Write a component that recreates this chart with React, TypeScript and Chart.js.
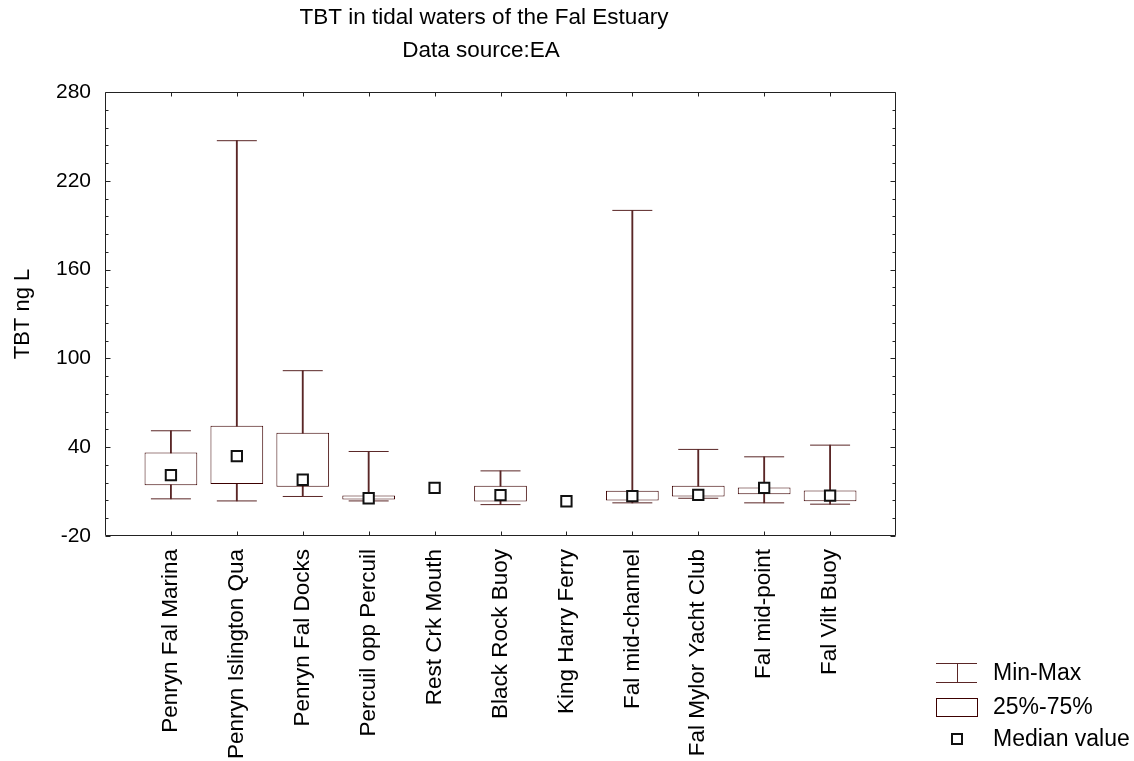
import React, { useEffect, useRef } from 'react';
import { Chart, registerables } from 'chart.js';

Chart.register(...registerables);

// ---------- data ----------
const stations = [
  'Penryn Fal Marina',
  'Penryn Islington Qua',
  'Penryn Fal Docks',
  'Percuil opp Percuil',
  'Rest Crk Mouth',
  'Black Rock Buoy',
  'King Harry Ferry',
  'Fal mid-channel',
  'Fal Mylor Yacht Club',
  'Fal mid-point',
  'Fal Vilt Buoy',
];
const minVals = [5.1, 3.7, 6.7, 3.7, null, 1.2, null, 2.4, 5.5, 2.4, 1.5];
const q1Vals = [14.3, 15.2, 13.2, 4.6, null, 3.3, null, 4.0, 6.7, 8.2, 3.5];
const medianVals = [21.1, 34.0, 18.0, 5.5, 12.5, 7.6, 3.5, 6.9, 7.8, 12.5, 7.3];
const q3Vals = [36.4, 54.5, 49.7, 7.3, null, 13.9, null, 10.5, 13.9, 12.7, 10.7];
const maxVals = [51.1, 247.1, 91.7, 37.1, null, 24.0, null, 200.0, 38.5, 33.5, 41.4];
const yTicks = [-20, 40, 100, 160, 220, 280];
const yMinorStep = 12;

const titleLines = ['TBT in tidal waters of the Fal Estuary', 'Data source:EA'];
const yTitle = 'TBT ng L';
const legendLabels = ['Min-Max', '25%-75%', 'Median value'];

// ---------- styles ----------
const FONT = "'Liberation Sans', Arial, Helvetica, sans-serif";
const BOX = '#3c0000';
const WHISKER = '#5a2626';
const FRAME = '#222222';

const pad = <T,>(arr: (T | null)[]) => [null, ...arr, null];

const framePlugin = {
  id: 'frameAndExtras',
  afterDraw(chart: any) {
    const { ctx, chartArea: a, scales } = chart;
    const x = scales.x;
    const y = scales.y;
    ctx.save();
    // frame
    ctx.strokeStyle = FRAME;
    ctx.lineWidth = 1;
    const L = Math.round(a.left) + 0.5;
    const R = Math.round(a.right) - 0.5;
    const T = Math.round(a.top) + 0.5;
    const B = Math.round(a.bottom) - 0.5;
    ctx.beginPath();
    ctx.rect(L, T, R - L, B - T);
    ctx.stroke();
    // y ticks (inward, both sides)
    ctx.beginPath();
    for (let v = yTicks[0]; v <= yTicks[yTicks.length - 1] + 0.001; v += yMinorStep) {
      const py = Math.round(y.getPixelForValue(v)) + 0.5;
      const major = yTicks.some((t) => Math.abs(t - v) < 0.001);
      const len = major ? 5 : 3;
      ctx.moveTo(L, py);
      ctx.lineTo(L + len, py);
      ctx.moveTo(R, py);
      ctx.lineTo(R - len, py);
    }
    // x ticks (inward, top and bottom)
    for (let i = 1; i <= stations.length; i++) {
      const px = Math.round(x.getPixelForValue(i)) + 0.5;
      ctx.moveTo(px, T);
      ctx.lineTo(px, T + 4);
      ctx.moveTo(px, B);
      ctx.lineTo(px, B - 4);
    }
    ctx.stroke();

    // title
    ctx.fillStyle = '#000';
    ctx.textAlign = 'center';
    ctx.textBaseline = 'middle';
    ctx.font = `22.5px ${FONT}`;
    ctx.fillText(titleLines[0], 484, 18);
    ctx.fillText(titleLines[1], 481, 51);

    // legend
    ctx.strokeStyle = WHISKER;
    ctx.lineWidth = 1;
    ctx.beginPath();
    ctx.moveTo(936, 663.5);
    ctx.lineTo(977, 663.5);
    ctx.moveTo(936, 682.5);
    ctx.lineTo(977, 682.5);
    ctx.moveTo(957.5, 663.5);
    ctx.lineTo(957.5, 682.5);
    ctx.stroke();
    ctx.strokeStyle = BOX;
    ctx.strokeRect(936.5, 698.5, 41, 18);
    ctx.strokeStyle = '#111';
    ctx.lineWidth = 2;
    ctx.fillStyle = '#fff';
    ctx.fillRect(952, 734, 10, 10);
    ctx.strokeRect(952, 734, 10, 10);
    ctx.fillStyle = '#000';
    ctx.textAlign = 'left';
    ctx.font = `23px ${FONT}`;
    ctx.fillText(legendLabels[0], 993, 674);
    ctx.fillText(legendLabels[1], 993, 708);
    ctx.fillText(legendLabels[2], 993, 740);
    ctx.restore();
  },
};

const bgPlugin = {
  id: 'whiteBg',
  beforeDraw(chart: any) {
    const { ctx, width, height } = chart;
    ctx.save();
    ctx.fillStyle = '#ffffff';
    ctx.fillRect(0, 0, width, height);
    ctx.restore();
  },
};

export default function App() {
  const ref = useRef<HTMLCanvasElement | null>(null);

  useEffect(() => {
    if (!ref.current) return;
    const labels = ['', ...stations, ''];
    const whiskerData = pad(stations.map((_, i) => (minVals[i] == null || maxVals[i] == null ? null : [minVals[i], maxVals[i]])));
    const boxData = pad(stations.map((_, i) => (q1Vals[i] == null || q3Vals[i] == null ? null : [q1Vals[i], q3Vals[i]])));

    const chart = new Chart(ref.current, {
      type: 'bar',
      data: {
        labels,
        datasets: [
          {
            type: 'bar',
            label: 'whisker',
            data: whiskerData as any,
            backgroundColor: WHISKER,
            borderWidth: 0,
            barThickness: 1.2,
            grouped: false,
            order: 4,
          } as any,
          {
            type: 'bar',
            label: '25%-75%',
            data: boxData as any,
            backgroundColor: '#ffffff',
            borderColor: BOX,
            borderWidth: 1,
            borderSkipped: false,
            barPercentage: 0.8,
            categoryPercentage: 1,
            grouped: false,
            order: 3,
          } as any,
          {
            type: 'line',
            label: 'max',
            data: pad(maxVals) as any,
            showLine: false,
            pointStyle: 'line',
            pointRadius: 20,
            pointHoverRadius: 20,
            pointBorderColor: WHISKER,
            pointBorderWidth: 1,
            order: 2,
          } as any,
          {
            type: 'line',
            label: 'min',
            data: pad(minVals) as any,
            showLine: false,
            pointStyle: 'line',
            pointRadius: 20,
            pointHoverRadius: 20,
            pointBorderColor: WHISKER,
            pointBorderWidth: 1,
            order: 2,
          } as any,
          {
            type: 'line',
            label: 'Median value',
            data: pad(medianVals) as any,
            showLine: false,
            pointStyle: 'rect',
            pointRadius: 7.3,
            pointHoverRadius: 7.3,
            pointBorderColor: '#111111',
            pointBackgroundColor: '#ffffff',
            pointBorderWidth: 2,
            order: 0,
          } as any,
        ],
      },
      options: {
        responsive: false,
        animation: false,
        devicePixelRatio: 1,
        events: [],
        layout: { padding: { left: 0, top: 92, right: 238, bottom: 0 } },
        plugins: {
          legend: { display: false },
          title: { display: false },
          tooltip: { enabled: false },
        },
        scales: {
          x: {
            type: 'category',
            offset: false,
            grid: { display: false, drawTicks: false },
            border: { display: false },
            ticks: {
              autoSkip: false,
              maxRotation: 90,
              minRotation: 90,
              padding: 13,
              color: '#000',
              font: { family: FONT, size: 22.5 },
            },
            afterFit: (s: any) => {
              s.height = 225;
            },
          },
          y: {
            type: 'linear',
            min: yTicks[0],
            max: yTicks[yTicks.length - 1],
            afterBuildTicks: (s: any) => {
              s.ticks = yTicks.map((v) => ({ value: v }));
            },
            grid: { display: false, drawTicks: false },
            border: { display: false },
            ticks: {
              padding: 14,
              color: '#000',
              font: { family: FONT, size: 21 },
            },
            title: {
              display: true,
              text: yTitle,
              color: '#000',
              font: { family: FONT, size: 22 },
              padding: { top: 10, bottom: 0 },
            },
            afterFit: (s: any) => {
              s.width = 105;
            },
          },
        },
      } as any,
      plugins: [bgPlugin, framePlugin],
    });
    return () => chart.destroy();
  }, []);

  return (
    <div style={{ position: 'fixed', left: 0, top: 0, width: 1134, height: 761, background: '#fff' }}>
      <canvas ref={ref} width={1134} height={761} style={{ display: 'block' }} />
    </div>
  );
}
